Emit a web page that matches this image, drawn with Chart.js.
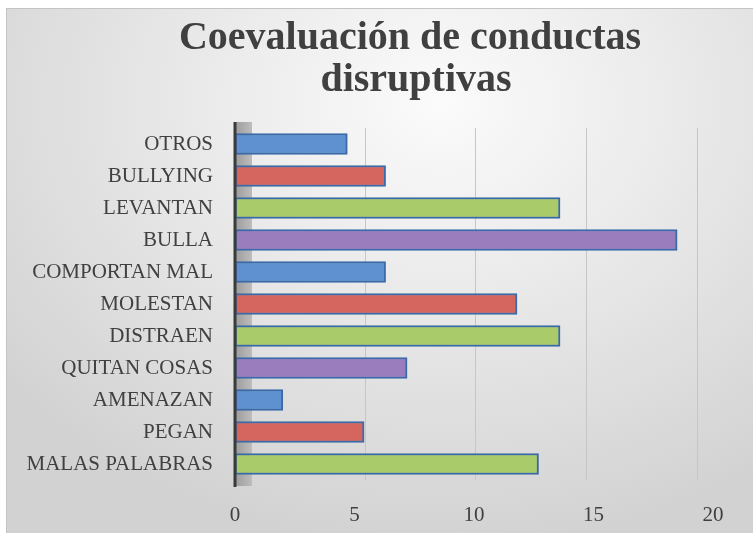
<!DOCTYPE html>
<html>
<head>
<meta charset="utf-8">
<script src="https://cdn.jsdelivr.net/npm/chart.js@4/dist/chart.umd.min.js"></script>
<style>
    html, body { margin: 0; padding: 0; background: #fff; }
    #marco {
        position: absolute; left: 6px; top: 8px; width: 747px; height: 525px;
        border-top: 1px solid #c4c4c4; border-left: 1px solid #c4c4c4;
        background: radial-gradient(ellipse 75% 85% at 58% 18%, #fbfbfb 0%, #e9e9e9 45%, #d2d2d2 100%);
    }
    #lienzo { position: absolute; left: 0; top: 0; }
</style>
</head>
<body>
<div id="marco"></div>
<canvas id="lienzo" width="753" height="533"></canvas>
<script>
// datos
const conductas = ['OTROS', 'BULLYING', 'LEVANTAN', 'BULLA', 'COMPORTAN MAL', 'MOLESTAN',
    'DISTRAEN', 'QUITAN COSAS', 'AMENAZAN', 'PEGAN', 'MALAS PALABRAS'];
const valores = [4.7, 6.3, 13.6, 18.5, 6.3, 11.8, 13.6, 7.2, 2.0, 5.4, 12.7];
const titulo = ['Coevaluación de conductas', 'disruptivas'];
const ticksX = [0, 5, 10, 15, 20];

// colores tipo Office que se repiten por barra
const paleta = ['#5f90cf', '#d4665f', '#a9cb69', '#9a7dbd'];
const colores = conductas.map((c, i) => paleta[i % paleta.length]);

const FUENTE = '"Liberation Serif", "Times New Roman", serif';

// título dibujado a mano para poder desplazarlo un poco a la derecha
const tituloPlugin = {
    id: 'tituloPlugin',
    afterDraw(chart) {
        const ctx = chart.ctx;
        ctx.save();
        ctx.fillStyle = '#404040';
        ctx.font = 'bold 40px ' + FUENTE;
        ctx.textAlign = 'center';
        ctx.textBaseline = 'alphabetic';
        ctx.fillText(titulo[0], 410, 49);
        ctx.fillText(titulo[1], 416, 91);
        ctx.restore();
    }
};

// pared lateral gris del efecto 3D
const paredPlugin = {
    id: 'paredPlugin',
    beforeDatasetsDraw(chart) {
        const ctx = chart.ctx;
        const a = chart.chartArea;
        ctx.save();
        const g = ctx.createLinearGradient(a.left, 0, a.left + 17, 0);
        g.addColorStop(0, '#9c9c9c');
        g.addColorStop(1, '#bdbdbd');
        ctx.fillStyle = g;
        ctx.fillRect(a.left, a.top - 6, 17, a.bottom - a.top + 12);
        ctx.restore();
    },
    afterDatasetsDraw(chart) {
        const ctx = chart.ctx;
        const a = chart.chartArea;
        ctx.save();
        ctx.strokeStyle = '#3a3a3a';
        ctx.lineWidth = 3;
        ctx.beginPath();
        ctx.moveTo(a.left, a.top - 6);
        ctx.lineTo(a.left, a.bottom + 7);
        ctx.stroke();
        ctx.restore();
    }
};

const chart = new Chart(document.getElementById('lienzo'), {
    type: 'bar',
    data: {
        labels: conductas,
        datasets: [{
            label: 'Conductas',
            data: valores,
            backgroundColor: colores,
            borderColor: '#3b6aa8',
            borderWidth: 2,
            borderSkipped: false,
            barThickness: 21
        }]
    },
    options: {
        indexAxis: 'y',
        responsive: false,
        animation: false,
        layout: { padding: { left: 0, right: 40, top: 128, bottom: 0 } },
        plugins: {
            legend: { display: false },
            title: { display: false },
            tooltip: { enabled: false }
        },
        scales: {
            x: {
                min: 0,
                max: 20,
                afterBuildTicks: s => { s.ticks = ticksX.map(v => ({ value: v })); },
                afterFit: s => { s.height = 53; },
                grid: { display: false, drawTicks: false },
                border: { display: false },
                ticks: {
                    padding: 23,
                    color: '#404040',
                    font: { family: FUENTE, size: 21 }
                }
            },
            // eje oculto: solo da las líneas de la pared del fondo (perspectiva)
            fondo: {
                type: 'linear',
                axis: 'x',
                position: 'top',
                min: -0.86,
                max: 20.68,
                afterBuildTicks: s => { s.ticks = ticksX.map(v => ({ value: v })); },
                afterFit: s => { s.height = 0; },
                ticks: { display: false },
                border: { display: false },
                grid: {
                    drawTicks: false,
                    lineWidth: 1,
                    color: c => (c.tick && c.tick.value === 0) ? 'rgba(0,0,0,0)' : '#c6c6c6'
                }
            },
            y: {
                afterFit: s => { s.width = 235; },
                grid: { display: false, drawTicks: false },
                border: { display: false },
                ticks: {
                    padding: 22,
                    color: '#404040',
                    font: { family: FUENTE, size: 21 }
                }
            }
        }
    },
    plugins: [paredPlugin, tituloPlugin]
});
</script>
</body>
</html>
